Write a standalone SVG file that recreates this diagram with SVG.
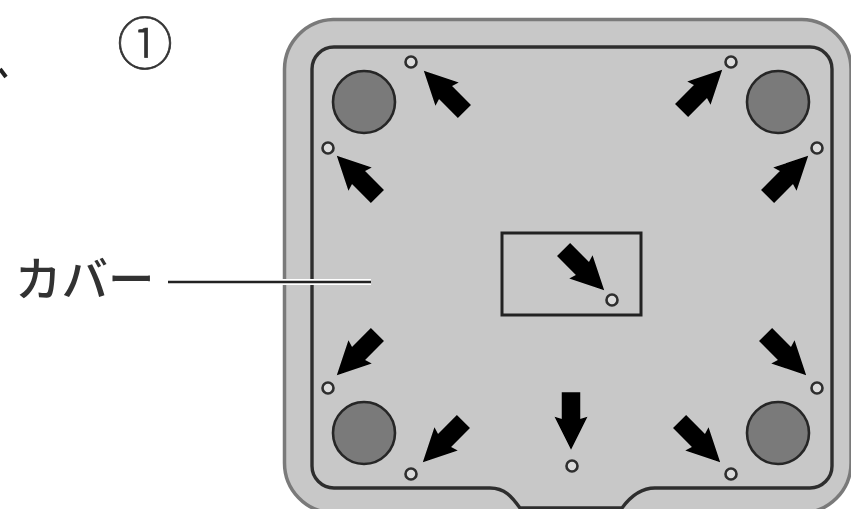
<svg xmlns="http://www.w3.org/2000/svg" width="851" height="509" viewBox="0 0 851 509">
<style>
.hole{fill:#dcdcdc;stroke:#2e2e2e;stroke-width:2.6}
.foot{fill:#7a7a7a;stroke:#262626;stroke-width:2.6}
.arrow{fill:#000;stroke:#000;stroke-width:1.500}
.label{fill:#333}
</style>
<defs>
<filter id="soft" x="-2%" y="-2%" width="104%" height="104%"><feGaussianBlur stdDeviation="0.6"/></filter>
<polygon id="arr" points="0,0 -15,-30 -8.500,-28 -8.500,-55 8.500,-55 8.500,-28 15,-30"/>
</defs>
<rect width="851" height="509" fill="#fff"/>
<g filter="url(#soft)">
<g id="cover">
<path d="M333,19.500H802A50,50 0 0 1 851,69V463A50,50 0 0 1 801,513H333A50,50 0 0 1 284.500,463V69A50,50 0 0 1 333,19.500Z" fill="#c8c8c8" stroke="#7a7a7a" stroke-width="3.500"/>
<path d="M334,47H810A22,22 0 0 1 832,69V466A22,22 0 0 1 810,488H655C640,488 630,497 622,508H520C512,497 505,488 490,488H334A22,22 0 0 1 312,466V69A22,22 0 0 1 334,47Z" fill="#c8c8c8" stroke="#2e2e2e" stroke-width="3.400"/>
</g>
<g id="feet">
<circle class="foot" cx="364" cy="102" r="31"/>
<circle class="foot" cx="778" cy="102" r="31"/>
<circle class="foot" cx="364" cy="433" r="31"/>
<circle class="foot" cx="778" cy="433" r="31"/>
</g>
<g id="window"><rect x="502" y="233" width="139" height="82" fill="none" stroke="#222" stroke-width="3"/></g>
<g id="holes">
<circle class="hole" cx="411" cy="62" r="5.500"/>
<circle class="hole" cx="328" cy="148" r="5.500"/>
<circle class="hole" cx="731" cy="62" r="5.500"/>
<circle class="hole" cx="817" cy="148" r="5.500"/>
<circle class="hole" cx="328" cy="388" r="5.500"/>
<circle class="hole" cx="411" cy="474" r="5.500"/>
<circle class="hole" cx="572" cy="466" r="5.500"/>
<circle class="hole" cx="731" cy="474" r="5.500"/>
<circle class="hole" cx="817" cy="388" r="5.500"/>
<circle class="hole" cx="612" cy="300" r="5.500"/>
</g>
<g id="connectors">
<g class="arrow">
<use href="#arr" transform="translate(425,72) rotate(135)"/>
<use href="#arr" transform="translate(338,157) rotate(135)"/>
<use href="#arr" transform="translate(721,71) rotate(-135)"/>
<use href="#arr" transform="translate(807,157) rotate(-135)"/>
<use href="#arr" transform="translate(338,374) rotate(45)"/>
<use href="#arr" transform="translate(424,461) rotate(45)"/>
<use href="#arr" transform="translate(571,448)"/>
<use href="#arr" transform="translate(719,461) rotate(-45)"/>
<use href="#arr" transform="translate(805,374) rotate(-45)"/>
<use href="#arr" transform="translate(603,289) rotate(-45)"/>
</g>
<path d="M168,282H371" stroke="#fff" stroke-width="6" fill="none"/>
<path d="M168,282H371" stroke="#222" stroke-width="2.400" fill="none"/>
<path d="M0,69L6,77" stroke="#222" stroke-width="4" fill="none"/>
</g>
<g id="label-cover"><text class="label" x="15" y="296" font-size="46.500" font-weight="500" font-family="'Noto Sans CJK JP','Noto Sans',sans-serif">カバー</text></g>
<g id="label-step"><text class="label" x="145" y="64" font-size="56" font-weight="300" stroke="#333" stroke-width="0.700" text-anchor="middle" font-family="'Noto Sans CJK JP',sans-serif">①</text></g>
</g>
</svg>
